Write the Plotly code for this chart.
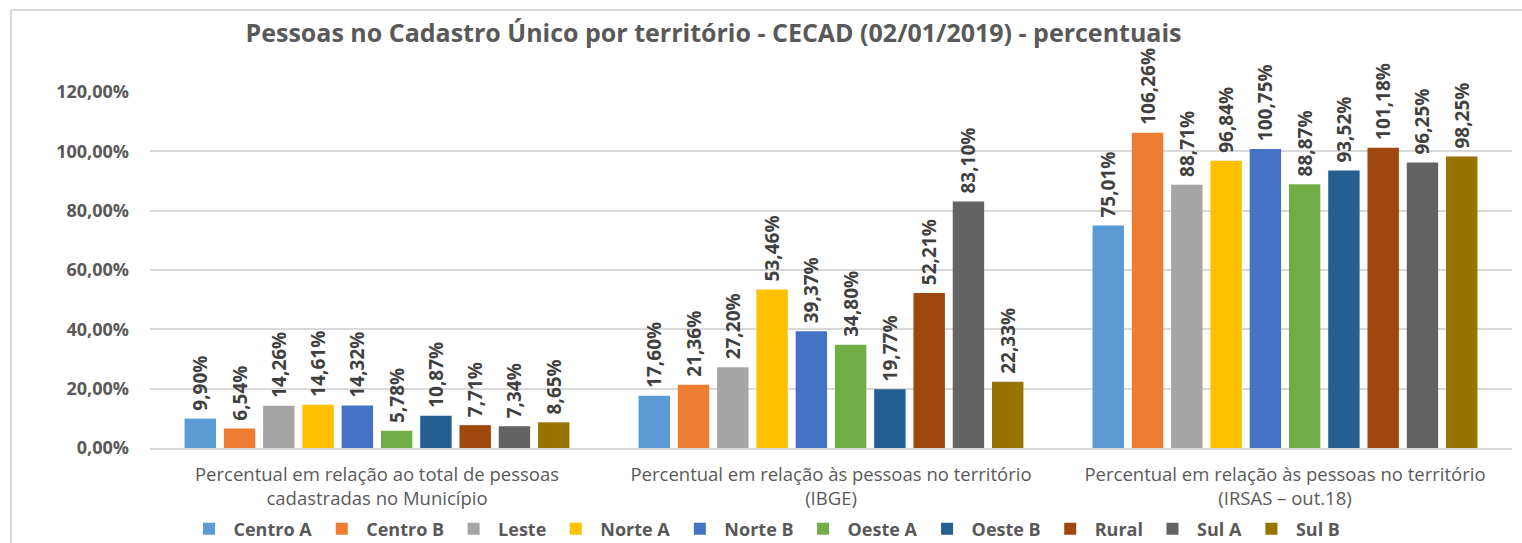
import plotly.graph_objects as go

categories = [
    "Percentual em relação ao total de pessoas<br>cadastradas no Município",
    "Percentual em relação às pessoas no território<br>(IBGE)",
    "Percentual em relação às pessoas no território<br>(IRSAS – out.18)",
]
series_names = ["Centro A", "Centro B", "Leste", "Norte A", "Norte B",
                "Oeste A", "Oeste B", "Rural", "Sul A", "Sul B"]
centro_a = [9.90, 17.60, 75.01]
centro_b = [6.54, 21.36, 106.26]
leste = [14.26, 27.20, 88.71]
norte_a = [14.61, 53.46, 96.84]
norte_b = [14.32, 39.37, 100.75]
oeste_a = [5.78, 34.80, 88.87]
oeste_b = [10.87, 19.77, 93.52]
rural = [7.71, 52.21, 101.18]
sul_a = [7.34, 83.10, 96.25]
sul_b = [8.65, 22.33, 98.25]
series_values = [centro_a, centro_b, leste, norte_a, norte_b,
                 oeste_a, oeste_b, rural, sul_a, sul_b]
colors = ["#5B9BD5", "#ED7D31", "#A5A5A5", "#FFC000", "#4472C4",
          "#70AD47", "#255E91", "#9E480E", "#636363", "#997300"]
y_ticks = [0, 20, 40, 60, 80, 100, 120]
y_tick_labels = ["0,00%", "20,00%", "40,00%", "60,00%", "80,00%", "100,00%", "120,00%"]

FONT = "'Open Sans', sans-serif"
W, H = 1522, 543
ML, MR, MT, MB = 150, 10, 92, 95
PW, PH = W - ML - MR, H - MT - MB

fig = go.Figure()
for name, vals, col in zip(series_names, series_values, colors):
    fig.add_trace(go.Bar(
        name=name, x=categories, y=vals,
        marker=dict(color=col, line=dict(width=0)),
        texttemplate="\u00a0%{y:.2f}%", textposition="outside", textangle=-90,
        textfont=dict(family=FONT, size=19, color="#404040", weight="bold"),
        cliponaxis=False, constraintext="none",
    ))

def px_x(p):
    return (p - ML) / PW

def px_y(p):
    return (H - MB - p) / PH

fig.update_layout(
    width=W, height=H,
    margin=dict(l=ML, r=MR, t=MT, b=MB, autoexpand=False),
    paper_bgcolor="white", plot_bgcolor="white",
    separators=",.",
    barmode="group", bargap=0.135, bargroupgap=0.2,
    font=dict(family=FONT, color="#595959"),
    title=dict(text="<b>Pessoas no Cadastro Único por território - CECAD (02/01/2019) - percentuais</b>",
               x=713.5 / W, xanchor="center", xref="container",
               y=1 - 33 / H, yanchor="middle", yref="container",
               font=dict(family=FONT, size=25, color="#595959")),
    xaxis=dict(showgrid=False, showline=True, linecolor="#D9D9D9", linewidth=2,
               tickfont=dict(family=FONT, size=18.5, color="#595959"),
               ticks="", ticklabelstandoff=9, automargin=False),
    yaxis=dict(range=[0, 120], tickvals=y_ticks, ticktext=y_tick_labels,
               showgrid=True, gridcolor="#D9D9D9", gridwidth=1.5,
               zeroline=False, showline=False, automargin=False,
               tickfont=dict(family=FONT, size=18, color="#595959", weight="bold"),
               ticklabelstandoff=20),
    legend=dict(orientation="h", x=px_x(765), xanchor="center",
                y=px_y(529), yanchor="middle", itemwidth=39,
                font=dict(family=FONT, size=18, color="#595959", weight="bold"),
                traceorder="normal", itemclick=False),
    shapes=[
        dict(type="line", xref="paper", yref="paper",
             x0=px_x(11), x1=px_x(1530), y0=px_y(10), y1=px_y(10),
             line=dict(color="#D9D9D9", width=2)),
        dict(type="line", xref="paper", yref="paper",
             x0=px_x(11), x1=px_x(11), y0=px_y(10), y1=px_y(560),
             line=dict(color="#D9D9D9", width=2)),
    ],
)

fig.write_html("out.html", config={"displayModeBar": False},
               post_script="document.body.style.margin='0';document.body.style.overflow='hidden';")
